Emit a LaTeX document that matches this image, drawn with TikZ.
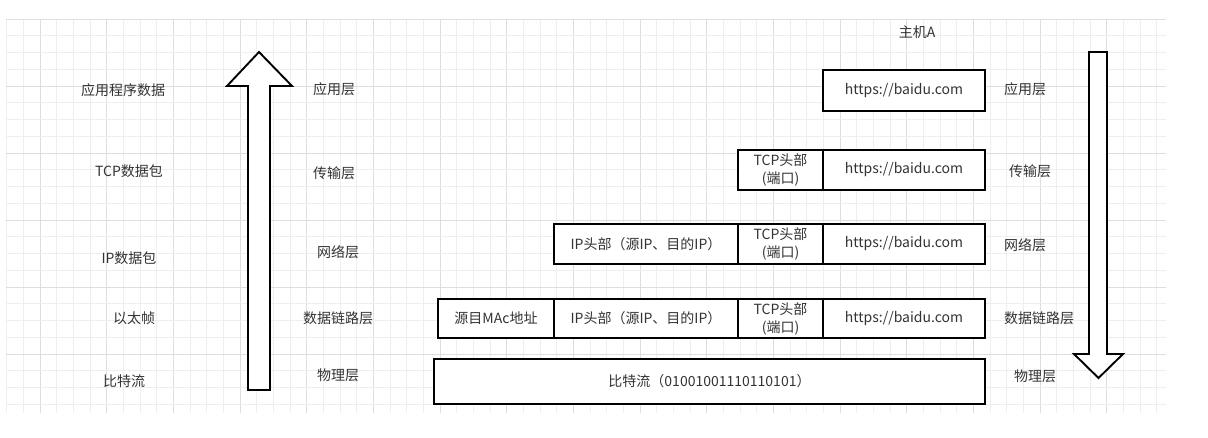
\documentclass[tikz,border=0pt]{standalone}
\usepackage{fontspec}
\setmainfont{Noto Sans CJK SC}
\definecolor{txt}{HTML}{333333}
\definecolor{gminor}{HTML}{EEEEEE}
\definecolor{gmajor}{HTML}{DEDEDE}
\tikzset{
  lbl/.style={text=txt, font=\fontsize{14}{17}\selectfont, inner sep=0pt},
  cell/.style={draw=black, line width=1.9pt, fill=white, text=txt,
    font=\fontsize{14}{18}\selectfont, align=center, inner sep=0pt, outer sep=0pt},
  bigarrow/.style={draw=black, line width=1.9pt, fill=white, line join=miter},
}
\begin{document}
\begin{tikzpicture}[x=1pt,y=-1pt]
\useasboundingbox (0,0) rectangle (1208,438);
\fill[white] (0,0) rectangle (1208,438);
% grid
\foreach \k in {-2,...,67}{
  \pgfmathtruncatemacro{\m}{mod(\k+400,4)}
  \ifnum\m=0
    \draw[gmajor, line width=0.9pt] ({40+16.67*\k},20) -- ({40+16.67*\k},413);
  \else
    \draw[gminor, line width=0.9pt] ({40+16.67*\k},20) -- ({40+16.67*\k},413);
  \fi
}
\foreach \k in {-4,...,19}{
  \pgfmathtruncatemacro{\m}{mod(\k+400,4)}
  \ifnum\m=0
    \draw[gmajor, line width=0.9pt] (6,{86+16.75*\k}) -- (1166,{86+16.75*\k});
  \else
    \draw[gminor, line width=0.9pt] (6,{86+16.75*\k}) -- (1166,{86+16.75*\k});
  \fi
}
% up arrow
\draw[bigarrow] (248,390) -- (248,86) -- (227,86) -- (259,52) -- (292,86) -- (270,86) -- (270,390) -- cycle;
% down arrow
\draw[bigarrow] (1089,52) -- (1089,354) -- (1074,354) -- (1098.5,378) -- (1123,354) -- (1107,354) -- (1107,52) -- cycle;
% left labels
\node[lbl] (l1) at (123,90) {应用程序数据};
\node[lbl] (l2) at (129,171) {TCP数据包};
\node[lbl] (l3) at (129,258) {IP数据包};
\node[lbl] (l4) at (134,318) {以太帧};
\node[lbl] (l5) at (124,381) {比特流};
% middle labels
\node[lbl] (m1) at (334,89) {应用层};
\node[lbl] (m2) at (334,173) {传输层};
\node[lbl] (m3) at (338,252) {网络层};
\node[lbl] (m4) at (338,318) {数据链路层};
\node[lbl] (m5) at (338,375) {物理层};
% right labels
\node[lbl] (host) at (917,32) {主机A};
\node[lbl] (r1) at (1025,89) {应用层};
\node[lbl] (r2) at (1030,171) {传输层};
\node[lbl] (r3) at (1025,245) {网络层};
\node[lbl] (r4) at (1039,318) {数据链路层};
\node[lbl] (r5) at (1035,376) {物理层};
% row 1
\node[cell, minimum width=162pt, minimum height=41pt] (a1) at (904,90.5) {https://baidu.com};
% row 2
\node[cell, minimum width=85pt, minimum height=40pt] (b1) at (780.5,170) {TCP头部\\(端口)};
\node[cell, minimum width=162pt, minimum height=40pt] (b2) at (904,170) {https://baidu.com};
% row 3
\node[cell, minimum width=184pt, minimum height=40pt] (c0) at (646,244) {IP头部（源IP、目的IP）};
\node[cell, minimum width=85pt, minimum height=40pt] (c1) at (780.5,244) {TCP头部\\(端口)};
\node[cell, minimum width=162pt, minimum height=40pt] (c2) at (904,244) {https://baidu.com};
% row 4
\node[cell, minimum width=116pt, minimum height=39pt] (d00) at (496,318.5) {源目MAc地址};
\node[cell, minimum width=184pt, minimum height=39pt] (d0) at (646,318.5) {IP头部（源IP、目的IP）};
\node[cell, minimum width=85pt, minimum height=39pt] (d1) at (780.5,318.5) {TCP头部\\(端口)};
\node[cell, minimum width=162pt, minimum height=39pt] (d2) at (904,318.5) {https://baidu.com};
% row 5
\node[cell, minimum width=551pt, minimum height=45pt] (e) at (709.5,381.5) {比特流（01001001110110101）};
\end{tikzpicture}
\end{document}
